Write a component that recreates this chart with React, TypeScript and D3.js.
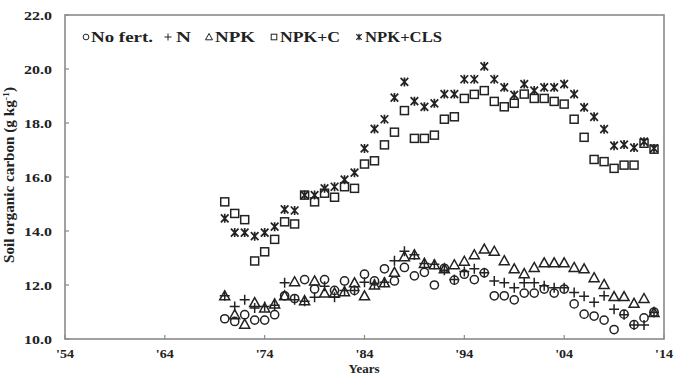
import React from "react";
import * as d3 from "d3";

const years = [1970,1971,1972,1973,1974,1975,1976,1977,1978,1979,1980,1981,1982,1983,1984,1985,1986,1987,1988,1989,1990,1991,1992,1993,1994,1995,1996,1997,1998,1999,2000,2001,2002,2003,2004,2005,2006,2007,2008,2009,2010,2011,2012,2013];

const noFert = [10.75,10.65,10.9,10.7,10.7,10.9,11.6,11.5,12.2,11.85,12.2,11.8,12.15,11.8,12.4,12.15,12.6,12.15,12.65,12.34,12.47,12.0,12.62,12.18,12.4,12.2,12.45,11.6,11.6,11.45,11.7,11.7,11.85,11.7,11.85,11.3,10.92,10.85,10.7,10.35,10.92,10.53,10.78,11.0];
const nFert = [11.6,11.2,11.45,11.15,11.2,11.25,12.08,11.45,11.4,11.55,11.95,11.55,11.8,11.8,12.1,12.05,12.1,12.9,13.25,13.12,12.8,12.77,12.55,12.2,12.5,12.6,12.45,12.15,12.08,11.9,12.08,12.08,11.97,11.9,11.9,11.72,11.58,11.36,11.6,11.1,10.9,10.52,10.52,10.98];
const npk = [11.6,10.9,10.55,11.35,11.15,11.3,11.6,12.12,11.42,12.15,11.7,11.7,11.75,12.08,11.6,12.0,12.08,12.47,13.05,13.12,12.8,12.75,12.6,12.75,12.88,13.12,13.33,13.25,12.9,12.6,12.42,12.65,12.82,12.82,12.82,12.65,12.6,12.27,12.02,11.57,11.57,11.32,11.5,10.98];
const npkC = [15.08,14.65,14.42,12.89,13.23,13.69,14.34,14.26,15.33,15.08,15.4,15.25,15.64,15.58,16.48,16.6,17.19,17.66,18.46,17.43,17.43,17.55,18.14,18.23,18.91,19.06,19.2,18.8,18.6,18.73,19.07,18.91,18.91,18.8,18.7,18.14,17.47,16.65,16.57,16.32,16.44,16.44,17.25,17.03];
const npkCls = [14.47,13.94,13.94,13.81,13.94,14.16,14.8,14.76,15.33,15.33,15.58,15.64,15.9,16.16,17.06,17.78,18.14,18.94,19.52,18.81,18.6,18.73,19.07,19.07,19.62,19.62,20.1,19.62,19.32,19.04,19.44,19.2,19.32,19.32,19.44,19.07,18.58,18.23,17.77,17.16,17.2,17.09,17.31,17.06];

const seriesNames = ["No fert.", "N", "NPK", "NPK+C", "NPK+CLS"];
const seriesValues = [noFert, nFert, npk, npkC, npkCls];
const seriesShapes = ["circle", "plus", "triangle", "square", "star"];

const xTicks = [1954, 1964, 1974, 1984, 1994, 2004, 2014];
const yTicks = [10, 12, 14, 16, 18, 20, 22];

const W = 675, H = 375;
const L = 65, R = 664, T = 15, B = 339;
const INK = "#222";
const FONT = "'Liberation Serif', 'Times New Roman', serif";

function Marker({ shape, x, y, s = 1, sw = 1.5 }: { shape: string; x: number; y: number; s?: number; sw?: number }) {
  const common = { fill: "none", stroke: INK, strokeWidth: sw };
  if (shape === "circle") return <circle cx={x} cy={y} r={4.1 * s} {...common} />;
  if (shape === "square") return <rect x={x - 4 * s} y={y - 4 * s} width={8 * s} height={8 * s} {...common} />;
  if (shape === "triangle")
    return <path d={`M${x},${y - 5 * s}L${x + 5 * s},${y + 4 * s}L${x - 5 * s},${y + 4 * s}Z`} {...common} />;
  if (shape === "plus")
    return <path d={`M${x - 5 * s},${y}H${x + 5 * s}M${x},${y - 5 * s}V${y + 5 * s}`} {...common} />;
  return (
    <path
      d={`M${x - 3.8 * s},${y - 4 * s}L${x + 3.8 * s},${y + 4 * s}M${x - 3.8 * s},${y + 4 * s}L${x + 3.8 * s},${y - 4 * s}M${x},${y - 4.5 * s}V${y + 4.5 * s}`}
      fill="none"
      stroke={INK}
      strokeWidth={sw + 0.2}
    />
  );
}

const legendPos = [
  { mx: 86, tx: 91, tl: 62 },
  { mx: 168, tx: 176, tl: 15 },
  { mx: 209, tx: 215, tl: 40 },
  { mx: 274, tx: 280, tl: 60 },
  { mx: 359, tx: 365, tl: 77 },
];

export default function App() {
  const x = d3.scaleLinear().domain([1954, 2014]).range([L, R]);
  const y = d3.scaleLinear().domain([10, 22]).range([B, T]);

  return (
    <svg width={W} height={H} style={{ position: "absolute", left: 0, top: 0, background: "#fff" }} fontFamily={FONT}>
      <rect x={0} y={0} width={W} height={H} fill="#fff" />
      <rect x={L} y={T} width={R - L} height={B - T} fill="none" stroke="#8a8a8a" strokeWidth={1.6} />
      {yTicks.map((t) => (
        <g key={"y" + t}>
          <line x1={L} x2={L + 4} y1={y(t)} y2={y(t)} stroke="#8a8a8a" strokeWidth={1.2} />
          <text
            x={52}
            y={y(t)}
            dy="0.35em"
            textAnchor="end"
            fontSize={13}
            fontWeight="bold"
            fill={INK}
            textLength={28}
            lengthAdjust="spacingAndGlyphs"
          >
            {d3.format(".1f")(t)}
          </text>
        </g>
      ))}
      {xTicks.map((t) => (
        <g key={"x" + t}>
          <line x1={x(t)} x2={x(t)} y1={B} y2={B - 4} stroke="#8a8a8a" strokeWidth={1.2} />
          <text
            x={x(t)}
            y={358}
            textAnchor="middle"
            fontSize={12}
            fontWeight="bold"
            fill={INK}
            textLength={18}
            lengthAdjust="spacingAndGlyphs"
          >
            {"'" + String(t).slice(2)}
          </text>
        </g>
      ))}
      <text
        transform={`translate(14,175) rotate(-90)`}
        textAnchor="middle"
        fontSize={14}
        fontWeight="bold"
        fill={INK}
        textLength={176}
        lengthAdjust="spacingAndGlyphs"
      >
        Soil organic carbon (g kg<tspan dy="-5" fontSize={9}>-1</tspan><tspan dy="5">)</tspan>
      </text>
      <text x={364} y={373} textAnchor="middle" fontSize={13} fontWeight="bold" fill={INK}>
        Years
      </text>
      {seriesValues.map((vals, si) => (
        <g key={"s" + si}>
          {vals.map((v, i) => (
            <Marker key={i} shape={seriesShapes[si]} x={x(years[i])} y={y(v)} />
          ))}
        </g>
      ))}
      {seriesNames.map((name, i) => (
        <g key={"l" + i}>
          <Marker shape={seriesShapes[i]} x={legendPos[i].mx} y={37} s={0.7} sw={1} />
          <text
            x={legendPos[i].tx}
            y={42}
            fontSize={15}
            fontWeight="bold"
            fill={INK}
            textLength={legendPos[i].tl}
            lengthAdjust="spacingAndGlyphs"
          >
            {name}
          </text>
        </g>
      ))}
    </svg>
  );
}
